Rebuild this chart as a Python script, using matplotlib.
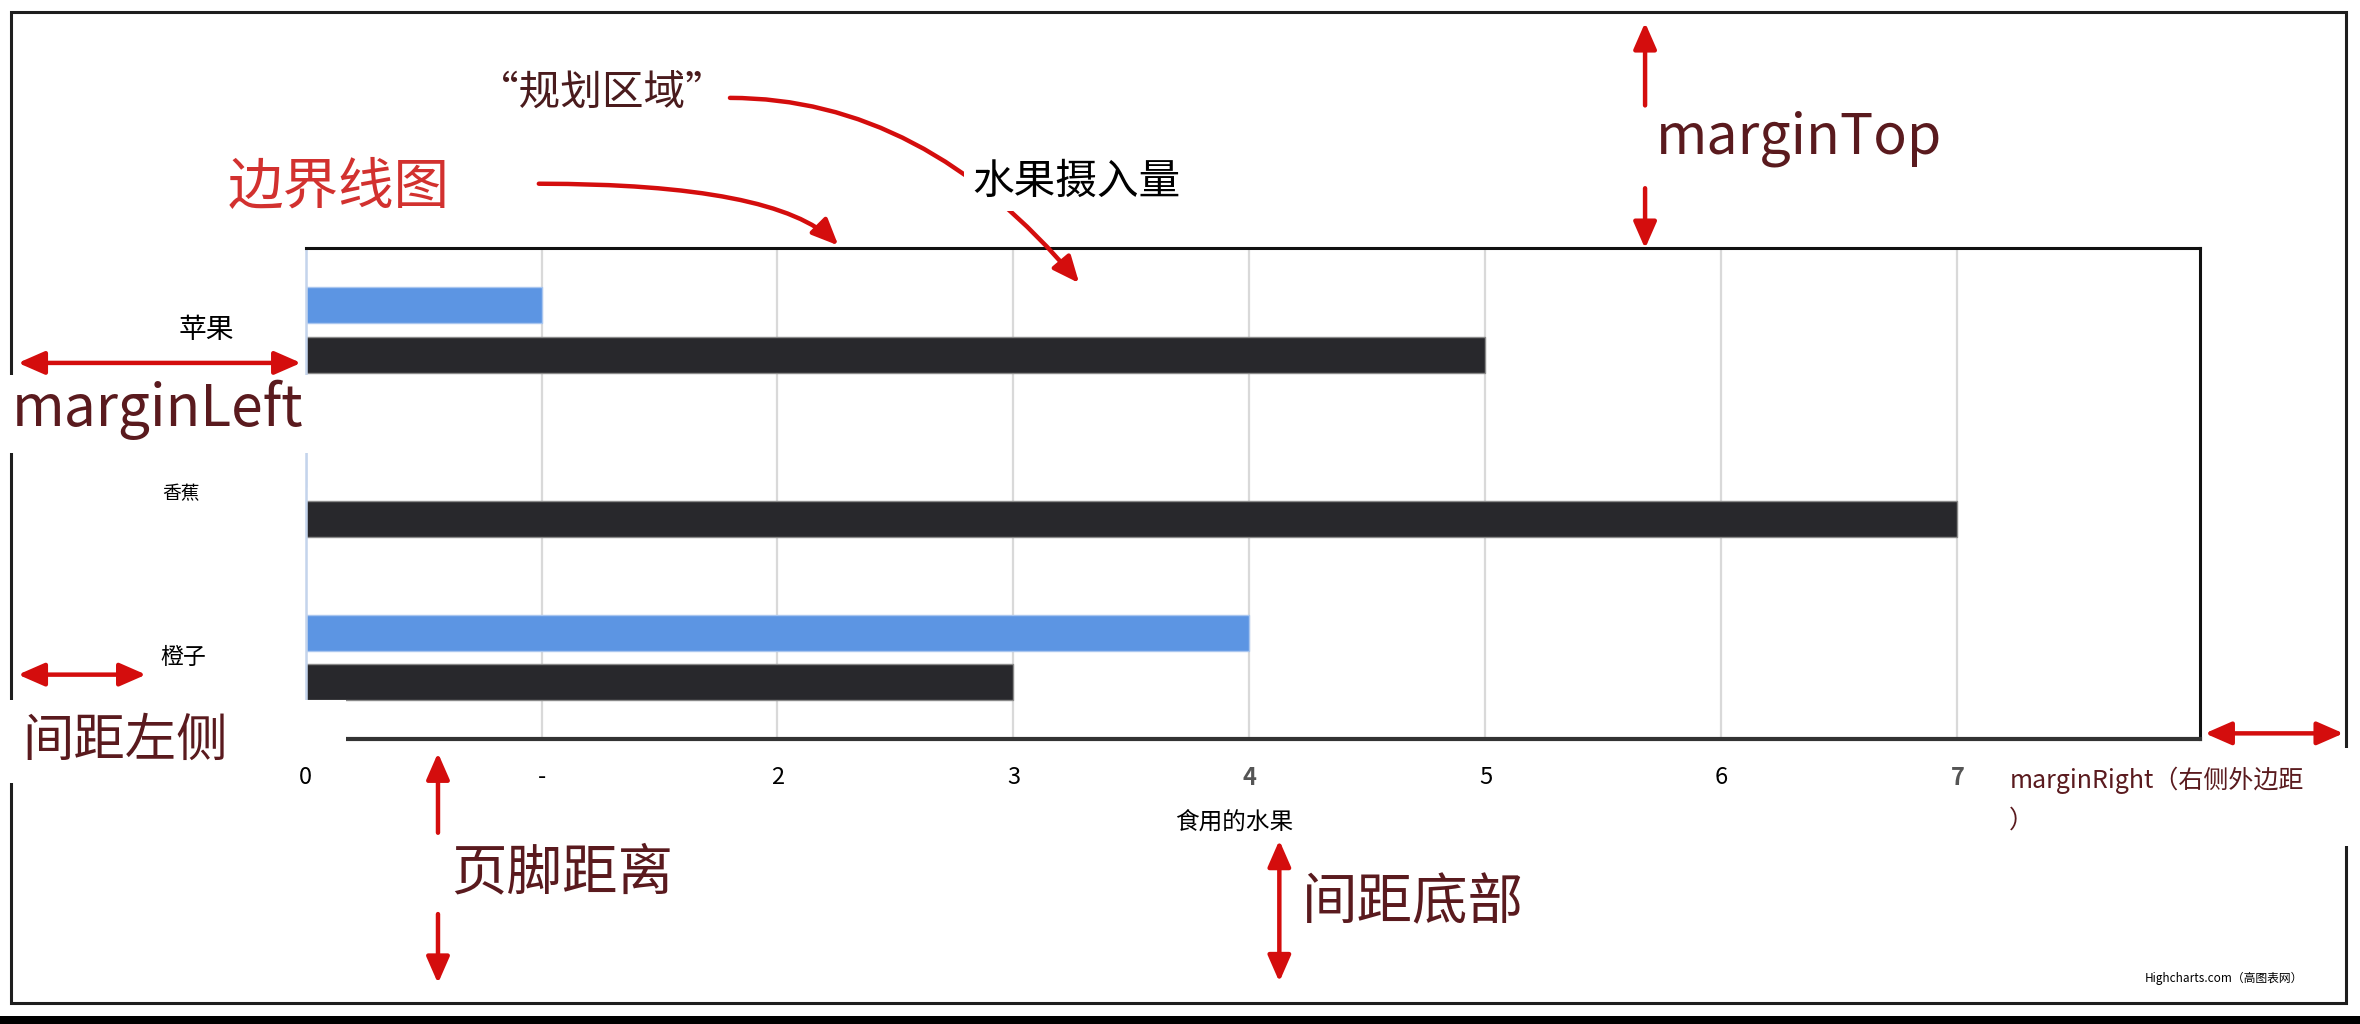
import numpy as np
import matplotlib
matplotlib.use('Agg')
import matplotlib.pyplot as plt
from matplotlib.patches import Rectangle
import matplotlib.transforms as mtransforms

plt.rcParams['font.family'] = ['Noto Sans CJK SC', 'DejaVu Sans']

# data
fruits = ['苹果', '香蕉', '橙子']
blue_vals = [1, 0, 4]
black_vals = [5, 7, 3]
xtick_vals = [0, 1, 2, 3, 4, 5, 6, 7]
xtick_labels = ['0', '-', '2', '3', '4', '5', '6', '7']
x_title = '食用的水果'

RED = '#d40d0d'
MAROON = '#5a1a1e'

fig = plt.figure(figsize=(23.6, 10.24), dpi=100)
fig.patch.set_facecolor('white')

# plot area (reference measured on a 1568x680 view)
W, H = 1568.0, 680.0
pl, pr, pt, pb = 203, 1462, 165, 491
ax = fig.add_axes([pl / W, 1 - pb / H, (pr - pl) / W, (pb - pt) / H], zorder=1)

y = np.arange(len(fruits))
ax.barh(y - 0.152, blue_vals, height=0.22, color='#5c95e3', edgecolor='#a9c6ef', lw=1)
ax.barh(y + 0.152, black_vals, height=0.22, color='#28282c', edgecolor='#8a8a8a', lw=1)
ax.set_xlim(0, 8.03)
ax.set_ylim(len(fruits) - 0.5, -0.5)
ax.set_axisbelow(True)
ax.grid(axis='x', color='#d9d9d9', lw=1.6)
ax.set_yticks([])
ax.set_xticks(xtick_vals)
ax.set_xticklabels(xtick_labels, fontsize=17)
ax.tick_params(axis='x', length=0, pad=19)
for lab in ax.get_xticklabels():
    if lab.get_text() in ('4', '7'):
        lab.set_color('#555555')
        lab.set_fontweight('bold')
ax.spines['top'].set(color='#111111', lw=2.2)
ax.spines['right'].set(color='#111111', lw=2.2)
ax.spines['bottom'].set(color='#333333', lw=3)
ax.spines['left'].set(color='#c4d4ec', lw=1.8)

# category labels
trans = mtransforms.blended_transform_factory(ax.transAxes, ax.transData)
cat_x = [-0.0524, -0.0659, -0.0643]
cat_size = [20, 13.5, 16.5]
for i, name in enumerate(fruits):
    ax.text(cat_x[i], y[i], name, transform=trans, ha='center', va='center',
            fontsize=cat_size[i], color='black')

# overlay for the explanatory annotations
ov = fig.add_axes([0, 0, 1, 1], zorder=2)
ov.set_xlim(0, W)
ov.set_ylim(H, 0)
ov.axis('off')
ov.patch.set_alpha(0)

# outer frame and screenshot shadow
ov.add_patch(Rectangle((7, 8), 1552, 658, fill=False, ec='#1e1e1e', lw=2.2))
ov.add_patch(Rectangle((0, 675), W, 5, color='black', lw=0))

# white boxes behind labels
for (x0, y0, w, h) in [(0, 249, 209, 52), (0, 465, 230, 40), (0, 505, 180, 15),
                       (1325, 497, 243, 65)]:
    ov.add_patch(Rectangle((x0, y0), w, h, color='white', lw=0, zorder=3))


def arrow(p0, p1, style='-|>', conn='arc3,rad=0'):
    ov.annotate('', xy=p1, xytext=p0, zorder=4,
                arrowprops=dict(arrowstyle=style + ',head_length=1.6,head_width=0.7',
                                color=RED, lw=3.2, mutation_scale=10,
                                shrinkA=0, shrinkB=0, connectionstyle=conn))


# curved arrows
arrow((358, 122), (557, 163), conn='angle3,angleA=0,angleB=-45')
arrow((485, 65), (717, 188), conn='angle3,angleA=0,angleB=-50')
# margin arrows
arrow((1093, 70), (1093, 15))
arrow((1093, 125), (1093, 165))
arrow((12, 241), (200, 241), style='<|-|>')
arrow((12, 448), (97, 448), style='<|-|>')
arrow((1465, 487), (1557, 487), style='<|-|>')
arrow((850, 558), (850, 652), style='<|-|>')
arrow((291, 553), (291, 500))
arrow((291, 607), (291, 653))

# texts
ov.text(400, 62, '“规划区域”', fontsize=30, color='#4a1b1d', ha='center', va='center', zorder=5)
ov.text(225, 125, '边界线图', fontsize=40, color='#d2312f', ha='center', va='center', zorder=5)
ov.text(715, 121, '水果摄入量', fontsize=30, color='black', ha='center', va='center', zorder=5,
        bbox=dict(fc='white', ec='none', pad=6))
ov.text(1100, 92, 'marginTop', fontsize=40, color=MAROON, ha='left', va='center', zorder=5)
ov.text(8, 272, 'marginLeft', fontsize=41, color=MAROON, ha='left', va='center', zorder=5)
ov.text(15, 492, '间距左侧', fontsize=37, color=MAROON, ha='left', va='center', zorder=5)
ov.text(300, 580, '页脚距离', fontsize=40, color=MAROON, ha='left', va='center', zorder=5)
ov.text(865, 600, '间距底部', fontsize=40, color=MAROON, ha='left', va='center', zorder=5)
ov.text(1335, 518, 'marginRight（右侧外边距', fontsize=18, color=MAROON, ha='left', va='center', zorder=5)
ov.text(1335, 545, '）', fontsize=18, color=MAROON, ha='left', va='center', zorder=5)
ov.text(820, 546, x_title, fontsize=17, color='black', ha='center', va='center', zorder=5)
ov.text(1530, 650, 'Highcharts.com（高图表网）', fontsize=8.5, color='black',
        ha='right', va='center', zorder=5)

fig.savefig('out.png', dpi=100)
plt.close(fig)
